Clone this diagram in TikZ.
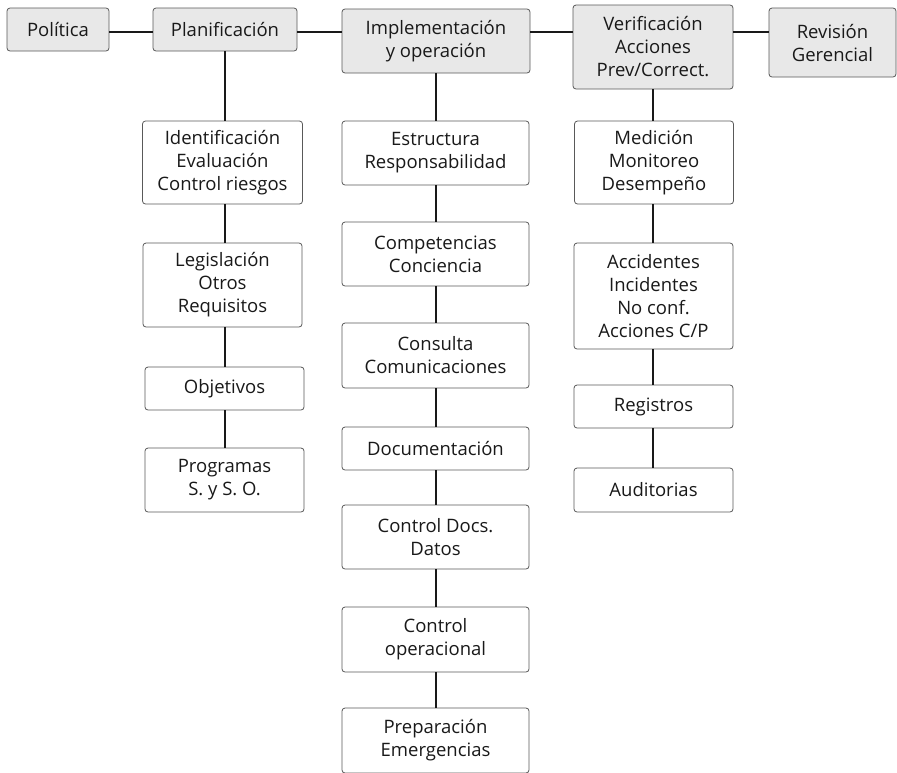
\documentclass[tikz,border=0pt]{standalone}
\usepackage{fontspec}
\setmainfont{Open Sans}
\begin{document}
\begin{tikzpicture}[x=1pt,y=-1pt,
  base/.style={draw=black!65, line width=0.8pt, rounded corners=3pt, align=center,
    inner sep=0pt, font=\fontsize{18.5}{23}\selectfont, text=black!90},
  topbox/.style={base, fill=black!9},
  subbox/.style={base, fill=white},
  conn/.style={draw=black!90, line width=1.2pt}]
\useasboundingbox (0,0) rectangle (897,772);
% top row
\node[topbox, minimum width=102pt, minimum height=43pt] (pol) at (58,29.5) {Política};
\node[topbox, minimum width=144pt, minimum height=43pt] (plan) at (225,29.5) {Planificación};
\node[topbox, minimum width=188pt, minimum height=64pt] (impl) at (436,41) {Implementación\\y operación};
\node[topbox, minimum width=160pt, minimum height=84pt] (verif) at (653,47) {Verificación\\Acciones\\Prev/Correct.};
\node[topbox, minimum width=127pt, minimum height=69pt] (rev) at (832.5,42.5) {Revisión\\Gerencial};
\coordinate (rowy) at (0,32);
% column 1
\node[subbox, minimum width=160pt, minimum height=83pt] (ident) at (222.5,162.5) {Identificación\\Evaluación\\Control riesgos};
\node[subbox, minimum width=159pt, minimum height=84pt] (legis) at (222.5,285) {Legislación\\Otros\\Requisitos};
\node[subbox, minimum width=159pt, minimum height=43pt] (obj) at (224.5,388.5) {Objetivos};
\node[subbox, minimum width=159pt, minimum height=64pt] (prog) at (224.5,480) {Programas\\S. y S. O.};
% column 2
\node[subbox, minimum width=187pt, minimum height=64pt] (estr) at (435.5,153) {Estructura\\Responsabilidad};
\node[subbox, minimum width=187pt, minimum height=64pt] (comp) at (435.5,254) {Competencias\\Conciencia};
\node[subbox, minimum width=187pt, minimum height=65pt] (cons) at (435.5,355.5) {Consulta\\Comunicaciones};
\node[subbox, minimum width=187pt, minimum height=43pt] (doc) at (435.5,448.5) {Documentación};
\node[subbox, minimum width=187pt, minimum height=64pt] (ctrl) at (435.5,537) {Control Docs.\\Datos};
\node[subbox, minimum width=187pt, minimum height=65pt] (oper) at (435.5,639.5) {Control\\operacional};
\node[subbox, minimum width=187pt, minimum height=65pt] (prep) at (435.5,740.5) {Preparación\\Emergencias};
% column 3
\node[subbox, minimum width=159pt, minimum height=83pt] (med) at (654,162.5) {Medición\\Monitoreo\\Desempeño};
\node[subbox, minimum width=159pt, minimum height=106pt] (acc) at (653.5,296) {Accidentes\\Incidentes\\No conf.\\Acciones C/P};
\node[subbox, minimum width=159pt, minimum height=43pt] (reg) at (653.5,406.5) {Registros};
\node[subbox, minimum width=159pt, minimum height=44pt] (aud) at (653.5,490) {Auditorias};
% top connectors
\draw[conn] (pol.east |- rowy) -- (plan.west |- rowy);
\draw[conn] (plan.east |- rowy) -- (impl.west |- rowy);
\draw[conn] (impl.east |- rowy) -- (verif.west |- rowy);
\draw[conn] (verif.east |- rowy) -- (rev.west |- rowy);
% column connectors
\draw[conn] (plan.south) -- (plan.south |- ident.north);
\draw[conn] (plan.south |- ident.south) -- (plan.south |- legis.north);
\draw[conn] (plan.south |- legis.south) -- (plan.south |- obj.north);
\draw[conn] (plan.south |- obj.south) -- (plan.south |- prog.north);
\draw[conn] (impl.south) -- (impl.south |- estr.north);
\draw[conn] (impl.south |- estr.south) -- (impl.south |- comp.north);
\draw[conn] (impl.south |- comp.south) -- (impl.south |- cons.north);
\draw[conn] (impl.south |- cons.south) -- (impl.south |- doc.north);
\draw[conn] (impl.south |- doc.south) -- (impl.south |- ctrl.north);
\draw[conn] (impl.south |- ctrl.south) -- (impl.south |- oper.north);
\draw[conn] (impl.south |- oper.south) -- (impl.south |- prep.north);
\draw[conn] (verif.south) -- (verif.south |- med.north);
\draw[conn] (verif.south |- med.south) -- (verif.south |- acc.north);
\draw[conn] (verif.south |- acc.south) -- (verif.south |- reg.north);
\draw[conn] (verif.south |- reg.south) -- (verif.south |- aud.north);
\end{tikzpicture}
\end{document}
